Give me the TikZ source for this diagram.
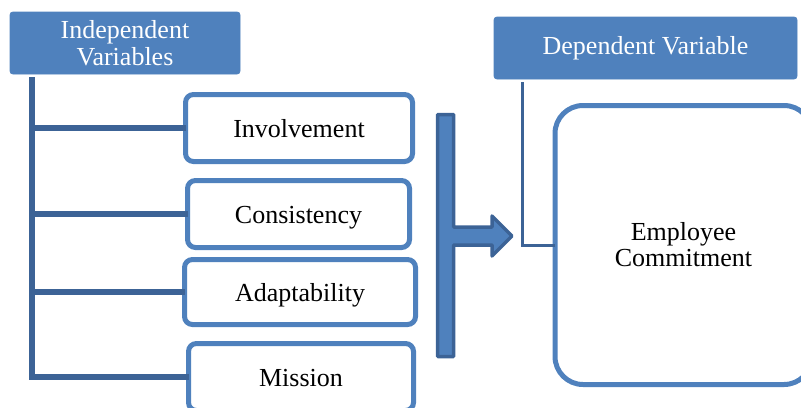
\documentclass[tikz,border=0pt]{standalone}
\usepackage{fontspec}
\setmainfont{Liberation Serif}
\usepackage{tikz}
\usetikzlibrary{positioning, calc}

\definecolor{boxblue}{RGB}{79,129,189}
\definecolor{linkblue}{RGB}{60,99,150}

\begin{document}
\begin{tikzpicture}[x=0.5pt, y=-0.5pt,
    header/.style={fill=boxblue, draw=boxblue, rounded corners=1.5pt, text=white,
        align=center, inner sep=0pt, outer sep=0pt, font=\fontsize{13}{13.5}\selectfont},
    factor/.style={draw=boxblue, line width=2.5pt, fill=white, rounded corners=4pt,
        inner sep=0pt, outer sep=0pt, minimum height=33.5pt, text height=10pt, text depth=0.5pt,
        font=\fontsize{13}{13.5}\selectfont},
    branch/.style={draw=linkblue, line width=3pt}]
    \useasboundingbox (0,0) rectangle (801,407);

    \node[header, minimum width=115pt, minimum height=31pt] (indep) at (125,43) {Independent\\Variables};
    \node[header, minimum width=151.5pt, minimum height=31pt] (dep) at (645.5,48) {Dependent Variable};

    \node[factor, minimum width=113.5pt] (inv) at (299,128) {Involvement};
    \node[factor, minimum width=111pt] (con) at (298.5,214) {Consistency};
    \node[factor, minimum width=115.5pt, minimum height=32.5pt] (ada) at (300,292) {Adaptability};
    \node[factor, minimum width=112.5pt] (mis) at (301,377) {Mission};

    \node[draw=boxblue, line width=2.5pt, fill=white, rounded corners=14pt, align=center,
        minimum width=128.5pt, minimum height=139.5pt, inner sep=0pt, outer sep=0pt,
        font=\fontsize{13}{13}\selectfont] (emp) at (683.5,245) {Employee\\Commitment};

    % tree of independent variables
    \coordinate (ivtop) at (32,77);
    \draw[branch] (ivtop) |- (mis.west);
    \foreach \v in {inv,con,ada}
        \draw[branch] (ivtop |- \v.west) -- (\v.west);

    % block arrow
    \draw[fill=boxblue, draw=linkblue, line width=1.75pt, line join=round]
        (437.5,114.5) -- (453.5,114.5) -- (453.5,227) -- (492,227) -- (492,216)
        -- (512,236) -- (492,256) -- (492,245) -- (453.5,245) -- (453.5,356.5)
        -- (437.5,356.5) -- cycle;

    % link to dependent variable
    \coordinate (dvtop) at (522,82);
    \draw[draw=linkblue, line width=1.5pt] (dvtop) |- (emp.west);
\end{tikzpicture}
\end{document}
